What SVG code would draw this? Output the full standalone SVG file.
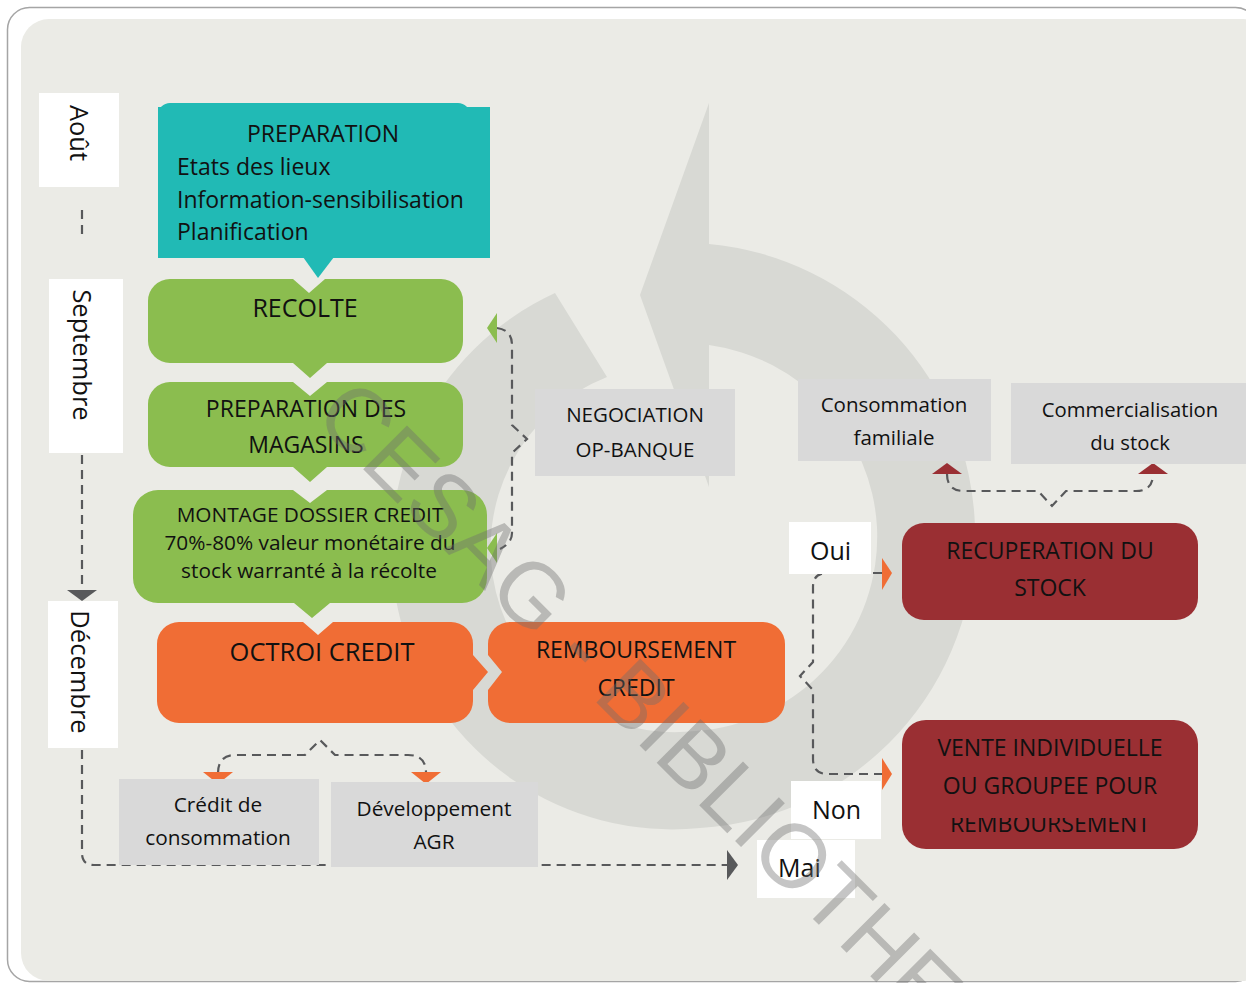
<svg xmlns="http://www.w3.org/2000/svg" width="1246" height="983" viewBox="0 0 1246 983">
<defs>
<style>
.t{font-family:"Open Sans","Noto Sans","Liberation Sans",sans-serif;fill:#111;}
.c{text-anchor:middle}
.dash{fill:none;stroke:#58595B;stroke-width:2.2;stroke-dasharray:9 6;}
.month{fill:#fff}
.grey{fill:#D9D9D9}
.green{fill:#8BBD4F}
.orange{fill:#F06D35}
.red{fill:#9A2F33}
.teal{fill:#21BAB5}
.ahd{fill:#58595B}
.wm{font-family:"Liberation Sans",Arial,sans-serif;font-size:90px;fill:#6e6e6e;fill-opacity:0.4}
</style>
<clipPath id="cut"><rect x="900" y="818" width="300" height="40"/></clipPath>
</defs>
<rect width="1246" height="983" fill="#fff"/>
<rect x="7.5" y="7.5" width="1250" height="974" rx="22" fill="#fff" stroke="#A5A5A5" stroke-width="1.5"/>
<rect x="21" y="19" width="1250" height="962" rx="28" fill="#EBEBE6"/>
<path id="cycle" d="M555,293 A281,281 0 0 0 700,828 A293,293 0 0 0 975,527 A293,293 0 0 0 709,244 L709,103 L640,295 L709,487 L709,345 A195,195 0 0 1 877,527 A195,195 0 0 1 695,731 A184,184 0 0 1 607,377 Z" fill="#D8D9D4"/>

<g id="connectors">
<path class="dash" d="M82,210 V238" stroke-dasharray="10 8"/>
<path class="dash" d="M82,455 V590"/>
<polygon class="ahd" points="67,590 97,590 82,601"/>
<path class="dash" d="M82,750 V853 Q82,865 94,865 H727"/>
<polygon class="ahd" points="727,850 738,865 727,880"/>
<path class="dash" d="M497,328 Q512,330 512,345 V425 L527,439 L512,453 V533 Q512,543 500,549"/>
<polygon class="green" points="487,328 497,313 497,343"/>
<polygon class="green" points="487,548 497,533 497,563"/>
<path class="dash" d="M218,773 Q218,755 236,755 H305 L320,740 L335,755 H408 Q426,755 426,773"/>
<polygon class="orange" points="203,772 233,772 218,784"/>
<polygon class="orange" points="411,772 441,772 426,784"/>
<path class="dash" d="M882,573 H827 Q813,573 813,587 V662 L800,676 L813,690 V759 Q813,774 828,774 H882"/>
<polygon class="orange" points="882,558 892,573 882,590"/>
<polygon class="orange" points="882,758 892,774 882,790"/>
<path class="dash" d="M947,474 Q947,491 964,491 H1038 L1052,506 L1066,491 H1136 Q1153,491 1153,474"/>
<polygon class="red" points="932,474 962,474 947,463"/>
<polygon class="red" points="1138,474 1168,474 1153,463"/>
</g>

<g id="aout"><rect class="month" x="39" y="93" width="80" height="94"/><text class="t c" font-size="25.5" transform="translate(70,133) rotate(90)">Août</text></g>
<g id="septembre"><rect class="month" x="49" y="279" width="74" height="174"/><text class="t c" font-size="25.5" transform="translate(73,355) rotate(90)">Septembre</text></g>
<g id="decembre"><rect class="month" x="48" y="601" width="70" height="147"/><text class="t c" font-size="25.5" transform="translate(71,672) rotate(90)">Décembre</text></g>

<g id="preparation">
<rect class="teal" x="158" y="103" width="312" height="155" rx="12"/>
<rect class="teal" x="158" y="107" width="332" height="151"/>
<polygon class="teal" points="303,257 334,257 318,278"/>
<text class="t c" font-size="23" x="323" y="142">PREPARATION</text>
<text class="t" font-size="23" x="177" y="175">Etats des lieux</text>
<text class="t" font-size="23" x="177" y="208">Information-sensibilisation</text>
<text class="t" font-size="23" x="177" y="240">Planification</text>
</g>

<g id="recolte">
<path class="green" d="M170,279 H293 L309,293 L325,279 H441 A22,22 0 0 1 463,301 V341 A22,22 0 0 1 441,363 H327 L310,378 L293,363 H170 A22,22 0 0 1 148,341 V301 A22,22 0 0 1 170,279 Z"/>
<text class="t c" font-size="25" x="305" y="317">RECOLTE</text>
</g>

<g id="magasins">
<path class="green" d="M170,382 H293 L310,396 L327,382 H441 A22,22 0 0 1 463,404 V445 A22,22 0 0 1 441,467 H327 L310,482 L293,467 H170 A22,22 0 0 1 148,445 V404 A22,22 0 0 1 170,382 Z"/>
<text class="t c" font-size="23" x="306" y="417">PREPARATION DES</text>
<text class="t c" font-size="23" x="306" y="453">MAGASINS</text>
</g>

<g id="montage">
<path class="green" d="M158,490 H293 L310,503 L327,490 H462 A25,25 0 0 1 487,515 V578 A25,25 0 0 1 462,603 H330 L312,618 L294,603 H158 A25,25 0 0 1 133,578 V515 A25,25 0 0 1 158,490 Z"/>
<text class="t c" font-size="20.8" x="310" y="522">MONTAGE DOSSIER CREDIT</text>
<text class="t c" font-size="20.8" x="310" y="550">70%-80% valeur monétaire du</text>
<text class="t c" font-size="20.8" x="309" y="578">stock warranté à la récolte</text>
</g>

<g id="octroi">
<path class="orange" d="M179,622 H303 L318,635 L333,622 H451 A22,22 0 0 1 473,644 V655 L488,672 L473,690 V701 A22,22 0 0 1 451,723 H179 A22,22 0 0 1 157,701 V644 A22,22 0 0 1 179,622 Z"/>
<text class="t c" font-size="25.5" x="322" y="661">OCTROI CREDIT</text>
</g>

<g id="remboursement">
<path class="orange" d="M510,622 H763 A22,22 0 0 1 785,644 V701 A22,22 0 0 1 763,723 H510 A22,22 0 0 1 488,701 V690 L502,672 L488,655 V644 A22,22 0 0 1 510,622 Z"/>
<text class="t c" font-size="23" x="636" y="658">REMBOURSEMENT</text>
<text class="t c" font-size="23" x="636" y="696">CREDIT</text>
</g>

<g id="negociation">
<rect class="grey" x="535" y="389" width="200" height="87"/>
<text class="t c" font-size="20.5" x="635" y="422">NEGOCIATION</text>
<text class="t c" font-size="20.5" x="635" y="457">OP-BANQUE</text>
</g>

<g id="consommation-familiale">
<rect class="grey" x="798" y="379" width="193" height="82"/>
<text class="t c" font-size="20.5" x="894" y="412">Consommation</text>
<text class="t c" font-size="20.5" x="894" y="445">familiale</text>
</g>

<g id="commercialisation">
<rect class="grey" x="1011" y="383" width="240" height="81"/>
<text class="t c" font-size="20.3" x="1130" y="417">Commercialisation</text>
<text class="t c" font-size="20.3" x="1130" y="450">du stock</text>
</g>

<g id="credit-consommation">
<rect class="grey" x="119" y="779" width="200" height="86"/>
<text class="t c" font-size="20.8" x="218" y="812">Crédit de</text>
<text class="t c" font-size="20.8" x="218" y="845">consommation</text>
</g>

<g id="developpement">
<rect class="grey" x="331" y="782" width="207" height="85"/>
<text class="t c" font-size="20.8" x="434" y="816">Développement</text>
<text class="t c" font-size="20.8" x="434" y="849">AGR</text>
</g>

<g id="recuperation">
<rect class="red" x="902" y="523" width="296" height="97" rx="22"/>
<text class="t c" font-size="23" x="1050" y="559">RECUPERATION DU</text>
<text class="t c" font-size="23" x="1050" y="596">STOCK</text>
</g>

<g id="vente">
<rect class="red" x="902" y="720" width="296" height="129" rx="24"/>
<text class="t c" font-size="23" x="1050" y="756">VENTE INDIVIDUELLE</text>
<text class="t c" font-size="23" x="1050" y="794">OU GROUPEE POUR</text>
<text class="t c" font-size="23" x="1050" y="832" clip-path="url(#cut)">REMBOURSEMENT</text>
</g>

<g id="oui"><rect class="month" x="789" y="522" width="82" height="52"/><text class="t" font-size="25" x="810" y="560">Oui</text></g>
<g id="non"><rect class="month" x="791" y="781" width="90" height="58"/><text class="t" font-size="25" x="812" y="819">Non</text></g>
<g id="mai"><rect class="month" x="757" y="840" width="98" height="58"/><text class="t" font-size="25" x="778" y="877">Mai</text></g>

<text class="wm" transform="translate(312,418) rotate(45)">CESAG - BIBLIOTHEQUE</text>
</svg>
